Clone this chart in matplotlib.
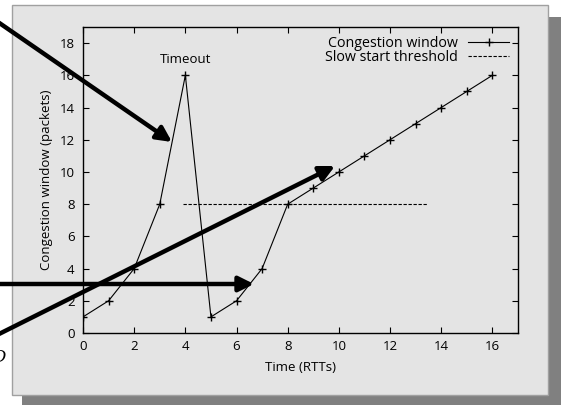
import matplotlib
matplotlib.use("Agg")
import matplotlib.pyplot as plt
from matplotlib.patches import Rectangle, FancyArrowPatch

# ---- data ----
rtt = [0, 1, 2, 3, 4, 5, 6, 7, 8, 9, 10, 11, 12, 13, 14, 15, 16]
cwnd = [1, 2, 4, 8, 16, 1, 2, 4, 8, 9, 10, 11, 12, 13, 14, 15, 16]
ssthresh_x = [3.9, 13.5]
ssthresh_y = [8, 8]
xticks = [0, 2, 4, 6, 8, 10, 12, 14, 16]
yticks = [0, 2, 4, 6, 8, 10, 12, 14, 16, 18]

W, H = 561, 405
plt.rcParams['font.family'] = ['Open Sans', 'DejaVu Sans']
fig = plt.figure(figsize=(W / 100, H / 100), dpi=100)
fig.patch.set_facecolor('white')

# shadow + gray panel behind the plot (top-left origin pixels -> fractions)
def px(x0, y0, x1, y1):
    return (x0 / W, 1 - y1 / H), (x1 - x0) / W, (y1 - y0) / H
xy, w, h = px(22, 17, 561, 405)
fig.patches.append(Rectangle(xy, w, h, transform=fig.transFigure, fc='#808080', ec='none', zorder=-2))
xy, w, h = px(12, 5, 548, 395)
fig.patches.append(Rectangle(xy, w, h, transform=fig.transFigure, fc='#e4e4e4', ec='#a0a0a0', lw=1, zorder=-1))

ax = fig.add_axes([83 / W, 1 - 333 / H, (518 - 83) / W, (333 - 27) / H])
ax.set_facecolor('#e4e4e4')
ax.plot(rtt, cwnd, color='black', lw=0.8, marker='+', ms=5.5, mew=1.0, label='Congestion window')
ax.plot(ssthresh_x, ssthresh_y, color='black', lw=0.8, ls=(0, (3, 1.5)), label='Slow start threshold')
ax.text(4, 17.0, 'Timeout', ha='center', va='center', fontsize=9.5)

ax.set_xlim(0, 17)
ax.set_ylim(0, 19)
ax.set_xticks(xticks)
ax.set_yticks(yticks)
ax.tick_params(direction='in', top=True, right=True, length=4, width=0.8, labelsize=9.5)
ax.tick_params(axis='y', pad=6)
ax.tick_params(axis='x', pad=5)
for s in ax.spines.values():
    s.set_linewidth(1.0)
ax.set_xlabel('Time (RTTs)', fontsize=9.5, labelpad=6)
ax.set_ylabel('Congestion window (packets)', fontsize=9.5, labelpad=5)
ax.legend(loc='upper right', frameon=False, markerfirst=False, fontsize=10.3,
          handlelength=2.9, borderaxespad=0.3, borderpad=0.3, labelspacing=-0.05,
          handletextpad=0.7)

# thick annotation arrows coming in from outside the panel
arrows = [((-5, 20), (172, 142)), ((-5, 284), (254, 284)), ((-5, 336), (335, 166))]
for (x0, y0), (x1, y1) in arrows:
    fig.add_artist(FancyArrowPatch(
        (x0 / W, 1 - y0 / H), (x1 / W, 1 - y1 / H), transform=fig.transFigure,
        arrowstyle='-|>,head_length=9,head_width=4.5', lw=3.2, color='black',
        shrinkA=0, shrinkB=0, zorder=10))
fig.text(-8 / W, 1 - 358 / H, 'D', fontsize=12, style='italic', family='DejaVu Serif',
         ha='left', va='center')

fig.savefig('out.png', dpi=100)
